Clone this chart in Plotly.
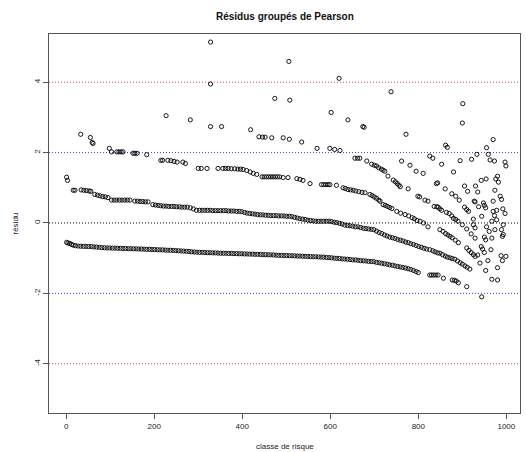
import plotly.graph_objects as go

# ---- data: grouped Pearson residuals (x = risk class, y = residual) ----
band_a = [(1,-0.55),(4,-0.57),(8,-0.58),(12,-0.61),(16,-0.63),(21,-0.645),(27,-0.655),(33,-0.66),(39,-0.665),(45,-0.665),
          (51,-0.67),(57,-0.67),(63,-0.68),(69,-0.685),(75,-0.69),(81,-0.70),(87,-0.705),(93,-0.71),(99,-0.71),(105,-0.715),
          (111,-0.715),(117,-0.72),(123,-0.72),(129,-0.725),(135,-0.725),(141,-0.73),(147,-0.73),(153,-0.735),(159,-0.735),(165,-0.74),
          (171,-0.74),(177,-0.745),(183,-0.75),(189,-0.75),(195,-0.755),(201,-0.755),(207,-0.76),(213,-0.765),(219,-0.765),(225,-0.77),
          (231,-0.775),(237,-0.775),(243,-0.78),(249,-0.785),(255,-0.79),(261,-0.795),(267,-0.80),(273,-0.805),(279,-0.81),(285,-0.82),
          (291,-0.825),(297,-0.83),(303,-0.835),(309,-0.835),(315,-0.84),(321,-0.845),(327,-0.845),(333,-0.85),(339,-0.85),(345,-0.855),
          (351,-0.86),(357,-0.86),(363,-0.86),(369,-0.865),(375,-0.865),(381,-0.87),(387,-0.87),(393,-0.875),(399,-0.875),(405,-0.88),
          (411,-0.88),(417,-0.885),(423,-0.885),(429,-0.89),(435,-0.89),(441,-0.895),(447,-0.90),(453,-0.90),(459,-0.905),(465,-0.905),
          (471,-0.91),(477,-0.915),(483,-0.92),(489,-0.92),(495,-0.925),(501,-0.925),(507,-0.93),(513,-0.93),(519,-0.935),(525,-0.94),
          (531,-0.94),(537,-0.945),(543,-0.95),(549,-0.95),(555,-0.955),(561,-0.96),(567,-0.96),(573,-0.965),(579,-0.97),(585,-0.97),
          (591,-0.98),(597,-0.985),(603,-0.99),(609,-1.0),(615,-1.005),(621,-1.01),(627,-1.02),(633,-1.025),(639,-1.03),(645,-1.04),
          (651,-1.05),(657,-1.05),(663,-1.06),(669,-1.07),(675,-1.075),(681,-1.08),(687,-1.09),(693,-1.095),(699,-1.10),(705,-1.12),
          (711,-1.13),(717,-1.145),(723,-1.16),(729,-1.17),(735,-1.19),(741,-1.20),(747,-1.22),(753,-1.235),(759,-1.25),(765,-1.265),
          (771,-1.28),(777,-1.30),(783,-1.32),(789,-1.35),(795,-1.38),(800,-1.41),
          (826,-1.48),(830,-1.48),(835,-1.48),(840,-1.48),(845,-1.48),(857,-1.57),(877,-1.62),(882,-1.63),(886,-1.65),(891,-1.70),
          (910,-1.81),(944,-2.10)]

band_b = [(1,1.30),(3,1.21),(16,0.93),(20,0.93),(34,0.94),(40,0.93),(46,0.92),(52,0.91),(56,0.90),(65,0.81),(71,0.79),(77,0.77),
          (83,0.75),(89,0.74),(95,0.72),(103,0.65),(109,0.65),(115,0.65),(121,0.65),(127,0.65),(133,0.65),(139,0.65),(145,0.65),
          (156,0.62),(162,0.62),(168,0.61),(174,0.61),(180,0.60),(186,0.60),(197,0.52),(203,0.51),(209,0.50),(215,0.49),(221,0.48),
          (227,0.48),(233,0.47),(239,0.47),(245,0.47),(251,0.46),(257,0.46),(263,0.45),(269,0.45),(275,0.45),(282,0.43),(289,0.40),
          (296,0.36),(303,0.36),(309,0.36),(315,0.36),(321,0.36),(327,0.36),(333,0.35),(339,0.35),(345,0.35),(351,0.35),(357,0.35),
          (363,0.35),(369,0.34),(375,0.34),(381,0.34),(387,0.33),(393,0.33),(399,0.32),(405,0.30),(411,0.28),(417,0.27),(423,0.26),
          (429,0.25),(435,0.24),(441,0.23),(447,0.23),(453,0.22),(459,0.22),(465,0.21),(471,0.21),(477,0.21),(483,0.20),(489,0.20),
          (495,0.20),(501,0.19),(507,0.19),(513,0.18),(519,0.16),(525,0.14),(531,0.12),(537,0.11),(543,0.10),(549,0.08),(555,0.07),
          (561,0.06),(567,0.05),(573,0.05),(579,0.05),(585,0.05),(591,0.05),(597,0.05),(603,0.04),(609,0.02),(615,0.01),(621,-0.01),
          (627,-0.03),(633,-0.06),(639,-0.07),(645,-0.08),(651,-0.09),(657,-0.11),(663,-0.11),(669,-0.13),(675,-0.15),(681,-0.16),
          (687,-0.17),(693,-0.18),(699,-0.19),(705,-0.23),(711,-0.27),(717,-0.30),(723,-0.34),(729,-0.37),(735,-0.40),(741,-0.42),
          (747,-0.44),(753,-0.47),(759,-0.49),(765,-0.51),(771,-0.54),(777,-0.56),(783,-0.59),(789,-0.61),(795,-0.64),(801,-0.67),
          (807,-0.69),(813,-0.72),(819,-0.74),(826,-0.76),(833,-0.79),(838,-0.82),(844,-0.85),(849,-0.86),(855,-0.90),(861,-0.94),
          (866,-0.97),(872,-0.99),(877,-1.01),(883,-1.03),(889,-1.08),(895,-1.13),(900,-1.17),(906,-1.22),(911,-1.26),(917,-1.31)]

band_c = [(33,2.52),(55,2.43),(59,2.29),(61,2.26),(98,2.12),(103,2.02),(115,2.02),(120,2.02),(125,2.02),(129,2.02),
          (152,1.98),(156,1.98),(161,1.98),(183,1.94),(215,1.78),(219,1.78),(231,1.78),(238,1.77),(245,1.75),(252,1.73),
          (265,1.73),(271,1.69),(300,1.55),(307,1.55),(320,1.55),(345,1.55),(356,1.55),(362,1.55),(368,1.55),(375,1.54),
          (383,1.54),(390,1.53),(396,1.53),(402,1.52),(410,1.49),(418,1.45),(425,1.41),(433,1.38),(445,1.31),(450,1.31),
          (455,1.31),(460,1.31),(465,1.31),(470,1.31),(475,1.31),(480,1.31),(485,1.31),(493,1.29),(504,1.29),(524,1.26),
          (531,1.24),(538,1.21),(554,1.12),(580,1.09),(585,1.09),(590,1.09),(595,1.09),(599,1.09),(614,1.07),(629,1.00),
          (634,0.98),(640,0.95),(646,0.94),(652,0.93),(658,0.91),(665,0.89),(672,0.87),(679,0.86),(690,0.81),(695,0.78),
          (700,0.74),(705,0.70),(710,0.65),(713,0.62),(720,0.52),(725,0.50),(730,0.47),(735,0.44),(740,0.41),(751,0.33),
          (760,0.28),(770,0.24),(778,0.20),(786,0.15),(791,0.12),(797,0.07),(804,0.05),(812,0.00),(822,-0.11),(849,-0.19),
          (856,-0.24),(862,-0.30),(867,-0.34),(872,-0.38),(877,-0.42),(884,-0.49),(891,-0.56),(910,-0.71),(915,-0.78),
          (920,-0.84),(925,-0.90),(929,-0.95),(940,-1.14)]

band_d = [(328,2.74),(353,2.74),(419,2.65),(438,2.45),(446,2.44),(452,2.44),(467,2.42),(493,2.42),(507,2.38),(535,2.30),
          (570,2.12),(599,2.12),(610,2.09),(622,2.06),(656,1.84),(662,1.84),(667,1.84),(683,1.76),(694,1.67),(700,1.64),
          (705,1.62),(710,1.57),(716,1.53),(720,1.50),(724,1.47),(731,1.33),(743,1.22),(748,1.17),(752,1.12),(756,1.07),
          (759,1.03),(777,0.97),(799,0.76),(803,0.74),(815,0.65),(822,0.62),(836,0.47),(842,0.46),(845,0.45),(849,0.40),
          (853,0.36),(864,0.30),(870,0.27),(876,0.20),(880,0.13),(885,0.10),(890,0.05),(900,-0.05),(910,-0.17),(920,-0.31),
          (929,-0.43),(943,-0.67),(946,-0.74)]

scattered = [(762,1.76),(781,1.64),(795,1.47),(811,1.41),(826,1.90),(833,1.84),(853,1.67),(862,2.21),(866,2.15),(880,1.45),
             (895,1.77),(921,1.81),(933,1.95),(959,1.95),(955,2.14),(970,2.37),(963,1.79),(973,1.76),(997,1.73),(999,1.62),
             (980,1.33),(976,1.25),(954,1.25),(943,1.21),(982,1.16),(844,1.14),(841,1.12),(905,1.05),(930,1.05),(912,0.90),
             (935,0.88),(861,0.97),(974,0.93),(986,0.76),(989,0.67),(876,0.83),(885,0.76),(893,0.65),(927,0.62),(929,0.60),
             (948,0.57),(970,0.62),(937,0.46),(950,0.50),(953,0.43),(905,0.45),(910,0.38),(914,0.33),(925,0.11),(944,0.19),
             (970,0.33),(978,0.36),(973,0.21),(992,0.40),(997,0.27),(967,0.05),(978,0.09),(993,-0.05),(925,-0.05),(929,-0.14),
             (955,-0.11),(961,-0.24),(974,-0.19),(989,-0.19),(993,-0.33),(991,-0.38),(950,-0.40),(967,-0.43),(953,-0.48),
             (965,-0.76),(935,-0.91),(950,-0.84),(988,-0.93),(999,-0.95),(958,-1.07),(991,-1.07),(980,-1.27),(953,-1.35),
             (967,-1.60),(980,-1.62)]

outliers = [(227,3.05),(282,2.93),(328,5.14),(328,3.95),(474,3.54),(506,4.59),(508,3.49),(620,4.11),(602,3.14),
            (640,2.93),(674,2.74),(677,2.72),(738,3.73),(772,2.52),(900,2.84),(901,3.39)]

ref_levels = [-4, -2, 0, 2, 4]
ref_colors = ["#d44545", "#3c3cf0", "#000000", "#3c3cf0", "#d44545"]
x_ticks = [0, 200, 400, 600, 800, 1000]
y_ticks = [-4, -2, 0, 2, 4]
y_tick_text = ["-4", "-2", "0", "2", "4"]

title_text = "Résidus groupés de Pearson"
x_title = "classe de risque"
y_title = "résidu"

# ---- build ----
points = band_a + band_b + band_c + band_d + scattered + outliers
xs = [p[0] for p in points]
ys = [p[1] for p in points]

fig = go.Figure()
fig.add_trace(go.Scatter(
    x=xs, y=ys, mode="markers",
    marker=dict(symbol="circle-open", size=4.2, color="black", line=dict(width=0.9)),
    showlegend=False, hoverinfo="x+y"))

for lv, col in zip(ref_levels, ref_colors):
    fig.add_shape(type="line", xref="paper", x0=0, x1=1, yref="y", y0=lv, y1=lv,
                  line=dict(color=col, width=1, dash="1px,2px"), layer="below")

axis_font = dict(family="Liberation Sans, Arial, sans-serif", size=8, color="#222")
fig.update_layout(
    width=526, height=452,
    margin=dict(l=49, r=6, t=34, b=39),
    paper_bgcolor="white", plot_bgcolor="white",
    font=dict(family="Liberation Sans, Arial, sans-serif", color="#222"),
    xaxis=dict(range=[-39, 1031], tickvals=x_ticks, ticks="outside", ticklen=5, tickcolor="#555",
               showgrid=False, zeroline=False, showline=True, linecolor="#555", linewidth=1, mirror=True,
               tickfont=axis_font),
    yaxis=dict(range=[-5.4, 5.37], tickvals=y_ticks, ticktext=y_tick_text, ticks="outside", ticklen=5,
               tickcolor="#555", tickangle=-90, showgrid=False, zeroline=False, showline=True,
               linecolor="#555", linewidth=1, mirror=True, tickfont=axis_font),
    annotations=[
        dict(text="<b>" + title_text + "</b>", xref="paper", yref="paper", x=0.5, y=1, yshift=18,
             showarrow=False, font=dict(size=10, color="#111"), xanchor="center", yanchor="middle"),
        dict(text=x_title, xref="paper", yref="paper", x=0.5, y=0, yshift=-33,
             showarrow=False, font=dict(size=8, color="#222"), xanchor="center", yanchor="middle"),
        dict(text=y_title, xref="paper", yref="paper", x=0, xshift=-34, y=0.5, textangle=-90,
             showarrow=False, font=dict(size=8, color="#222"), xanchor="center", yanchor="middle"),
    ],
)

fig.write_html("out.html", config={"displayModeBar": False},
               post_script="document.body.style.margin='0';")
